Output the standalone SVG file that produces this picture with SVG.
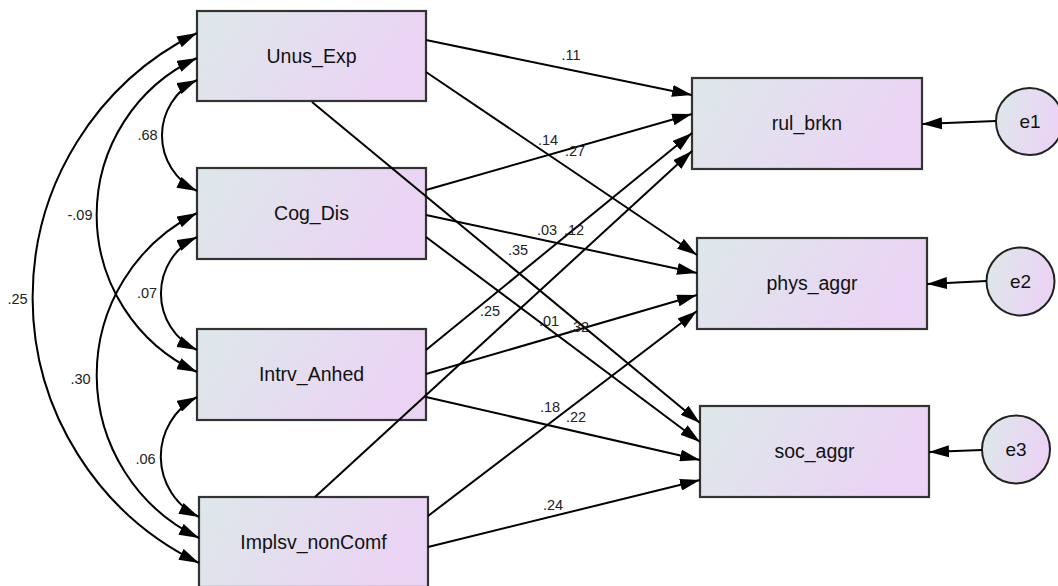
<svg xmlns="http://www.w3.org/2000/svg" width="1058" height="586" viewBox="0 0 1058 586">
<style>
.box{stroke:#333;stroke-width:2.2;fill:url(#grad)}
.circ{stroke:#222;stroke-width:2;fill:url(#grad)}
.nl{font-family:"Liberation Sans",Arial,sans-serif;font-size:19.5px;fill:#111;text-anchor:middle}
.el{font-family:"Liberation Sans",Arial,sans-serif;font-size:19px;fill:#111;text-anchor:middle}
.cl{font-family:"Liberation Sans",Arial,sans-serif;font-size:14.5px;fill:#222;text-anchor:middle}
.ln{stroke:#000;stroke-width:2;fill:none;marker-end:url(#ah)}
.cov{stroke:#000;stroke-width:2;fill:none;marker-start:url(#ah);marker-end:url(#ah)}
</style>
<defs>
<linearGradient id="grad" x1="0" y1="0" x2="1" y2="0.25">
<stop offset="0" stop-color="#dde8ea"/>
<stop offset="1" stop-color="#ebd3f4"/>
</linearGradient>
<marker id="ah" viewBox="0 0 20 12" refX="20" refY="6" markerWidth="20" markerHeight="12" markerUnits="userSpaceOnUse" orient="auto-start-reverse">
<path d="M0,0 L20,6 L0,12 z" fill="#000"/>
</marker>
</defs>
<rect width="1058" height="586" fill="#fff"/>
<g id="Unus_Exp"><rect class="box" x="197" y="11" width="229" height="90"/><text class="nl" x="311.5" y="63">Unus_Exp</text></g>
<g id="Cog_Dis"><rect class="box" x="197" y="168" width="229" height="91"/><text class="nl" x="311.5" y="220">Cog_Dis</text></g>
<g id="Intrv_Anhed"><rect class="box" x="197" y="329" width="229" height="91"/><text class="nl" x="311.5" y="381">Intrv_Anhed</text></g>
<g id="Implsv_nonComf"><rect class="box" x="199" y="497" width="229" height="90"/><text class="nl" x="313.5" y="549">Implsv_nonComf</text></g>
<g id="rul_brkn"><rect class="box" x="692" y="78" width="230" height="91"/><text class="nl" x="807" y="130">rul_brkn</text></g>
<g id="phys_aggr"><rect class="box" x="697" y="238" width="230" height="91"/><text class="nl" x="812" y="290">phys_aggr</text></g>
<g id="soc_aggr"><rect class="box" x="700" y="406" width="229" height="91"/><text class="nl" x="814.5" y="458">soc_aggr</text></g>
<g id="e1"><circle class="circ" cx="1029.5" cy="121.5" r="33.5"/><text class="el" x="1030" y="128">e1</text></g>
<g id="e2"><circle class="circ" cx="1020.5" cy="281.5" r="34"/><text class="el" x="1020.5" y="288">e2</text></g>
<g id="e3"><circle class="circ" cx="1016" cy="449.5" r="34"/><text class="el" x="1016" y="456">e3</text></g>
<g id="connectors">
<line class="ln" x1="426" y1="40" x2="692" y2="95"/>
<line class="ln" x1="426" y1="72" x2="697" y2="255"/>
<line class="ln" x1="312" y1="102" x2="700" y2="423"/>
<line class="ln" x1="426" y1="190" x2="692" y2="114"/>
<line class="ln" x1="426" y1="215" x2="697" y2="273"/>
<line class="ln" x1="426" y1="237" x2="700" y2="442"/>
<line class="ln" x1="426" y1="350" x2="692" y2="133"/>
<line class="ln" x1="426" y1="374" x2="697" y2="295"/>
<line class="ln" x1="426" y1="397" x2="700" y2="460"/>
<line class="ln" x1="315" y1="497" x2="692" y2="151"/>
<line class="ln" x1="428" y1="516" x2="697" y2="311"/>
<line class="ln" x1="428" y1="547" x2="700" y2="480"/>
<line class="ln" x1="996" y1="121" x2="922" y2="124"/>
<line class="ln" x1="986.5" y1="281" x2="927" y2="284"/>
<line class="ln" x1="982" y1="450" x2="929" y2="452"/>
<path class="cov" d="M197,80 A61.5,61.5 0 0 0 197,191"/>
<path class="cov" d="M197,58 A173,173 0 0 0 197,372"/>
<path class="cov" d="M197,33 A295,295 0 0 0 199,563"/>
<path class="cov" d="M197,237 A62.3,62.3 0 0 0 197,350"/>
<path class="cov" d="M197,213 A181,181 0 0 0 199,538"/>
<path class="cov" d="M197,397 A67,67 0 0 0 199,517"/>
</g>
<g id="labels">
<text class="cl" x="571" y="60">.11</text>
<text class="cl" x="548" y="145">.14</text>
<text class="cl" x="575" y="156">.27</text>
<text class="cl" x="547" y="235">.03</text>
<text class="cl" x="574" y="235">.12</text>
<text class="cl" x="518" y="255">.35</text>
<text class="cl" x="490" y="316">.25</text>
<text class="cl" x="549" y="326">.01</text>
<text class="cl" x="579" y="332">.32</text>
<text class="cl" x="550" y="412">.18</text>
<text class="cl" x="576" y="422">.22</text>
<text class="cl" x="553" y="510">.24</text>
<text class="cl" x="147.5" y="140">.68</text>
<text class="cl" x="80" y="220">-.09</text>
<text class="cl" x="17.5" y="304">.25</text>
<text class="cl" x="147" y="298">.07</text>
<text class="cl" x="80.5" y="384">.30</text>
<text class="cl" x="145.5" y="464">.06</text>
</g>
</svg>
